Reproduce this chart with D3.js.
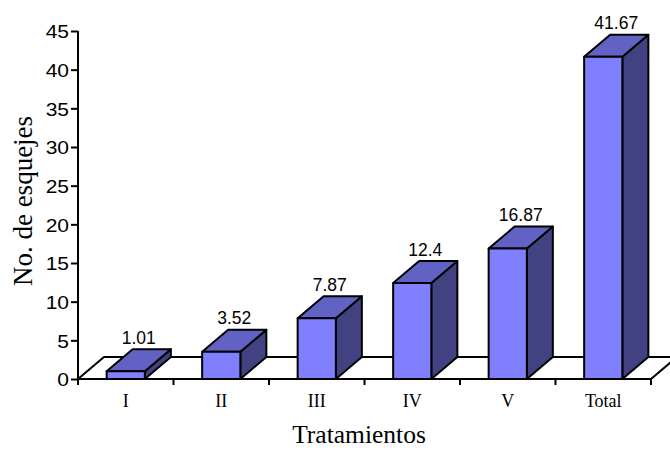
<!DOCTYPE html>
<html>
<head>
<meta charset="utf-8">
<script src="https://cdn.jsdelivr.net/npm/d3@7"></script>
<style>
  html, body { margin: 0; padding: 0; background: #fff; }
  svg { display: block; }
</style>
</head>
<body>
<svg id="chart" width="670" height="450"></svg>
<script>
// Number of cuttings per treatment
const categories = ["I", "II", "III", "IV", "V", "Total"];
const values = [1.01, 3.52, 7.87, 12.4, 16.87, 41.67];
const yTicks = [0, 5, 10, 15, 20, 25, 30, 35, 40, 45];
const yTitle = "No. de esquejes";
const xTitle = "Tratamientos";

const svg = d3.select("#chart");

const y = d3.scaleLinear().domain([0, 45]).range([379, 31]);
const x = d3.scaleBand().domain(categories).range([78, 651]).paddingInner(0).paddingOuter(0);

// 3-D depth offset of the floor and the bars
const DX = 26, DY = -22;
const barW = x.bandwidth() * 0.4;

const colFront = "#8080ff", colTop = "#6262c4", colSide = "#424282";
const serif = "'Liberation Serif', 'Times New Roman', serif";
const sans = "'Liberation Sans', Arial, sans-serif";

// floor
const x0 = x.range()[0], x1 = x.range()[1], yb = y(0);
svg.append("path")
  .attr("d", `M${x0},${yb} L${x0 + DX},${yb + DY} L${x1 + DX},${yb + DY} L${x1},${yb} Z`)
  .attr("fill", "#fff").attr("stroke", "#000").attr("stroke-width", 2)
  .attr("stroke-linejoin", "miter");

// bars
const bars = svg.append("g");
categories.forEach((c, i) => {
  const v = values[i];
  const cx = x(c) + x.bandwidth() / 2;
  const l = cx - barW / 2, r = cx + barW / 2;
  const t = y(v), b = y(0);
  const g = bars.append("g")
    .attr("stroke", "#000").attr("stroke-width", 2).attr("stroke-linejoin", "round");
  // right side
  g.append("path")
    .attr("d", `M${r},${b} L${r + DX},${b + DY} L${r + DX},${t + DY} L${r},${t} Z`)
    .attr("fill", colSide);
  // top
  g.append("path")
    .attr("d", `M${l},${t} L${l + DX},${t + DY} L${r + DX},${t + DY} L${r},${t} Z`)
    .attr("fill", colTop);
  // front
  g.append("rect")
    .attr("x", l).attr("y", t).attr("width", barW).attr("height", b - t)
    .attr("fill", colFront);
  // value label
  svg.append("text")
    .attr("x", cx + DX / 2).attr("y", t + DY - 5.5)
    .attr("text-anchor", "middle")
    .attr("font-family", sans).attr("font-size", 17.5)
    .attr("fill", "#000")
    .text(String(v));
});

// x axis line with ticks at category boundaries
svg.append("line")
  .attr("x1", x0).attr("x2", x1).attr("y1", yb).attr("y2", yb)
  .attr("stroke", "#000").attr("stroke-width", 2);
const bounds = categories.map(c => x(c)).concat([x1]);
svg.append("g").selectAll("line").data(bounds).join("line")
  .attr("x1", d => d).attr("x2", d => d)
  .attr("y1", yb).attr("y2", yb + 6)
  .attr("stroke", "#000").attr("stroke-width", 2);

// category labels
svg.append("g").selectAll("text").data(categories).join("text")
  .attr("x", d => x(d) + x.bandwidth() / 2)
  .attr("y", 407)
  .attr("text-anchor", "middle")
  .attr("font-family", serif).attr("font-size", 18)
  .attr("fill", "#000")
  .text(d => d);

// y axis
const yAxis = svg.append("g")
  .attr("transform", `translate(${x0},0)`)
  .call(d3.axisLeft(y).tickValues(yTicks).tickSize(7).tickSizeOuter(0).tickPadding(0));
yAxis.select(".domain").attr("stroke", "#000").attr("stroke-width", 2)
  .attr("d", `M0,${y(45)}V${yb + 1}`);
yAxis.selectAll(".tick line").attr("stroke", "#000").attr("stroke-width", 2);
yAxis.selectAll(".tick text")
  .attr("x", null).attr("dy", null)
  .attr("transform", "translate(-9,6.8) scale(1.2,1)")
  .attr("font-family", sans).attr("font-size", 17.5)
  .attr("fill", "#000");

// axis titles
svg.append("text")
  .attr("transform", `translate(32,201) rotate(-90)`)
  .attr("text-anchor", "middle")
  .attr("font-family", serif).attr("font-size", 27)
  .attr("fill", "#000")
  .text(yTitle);

svg.append("text")
  .attr("x", 359).attr("y", 443)
  .attr("text-anchor", "middle")
  .attr("font-family", serif).attr("font-size", 25.5)
  .attr("fill", "#000")
  .text(xTitle);
</script>
</body>
</html>
